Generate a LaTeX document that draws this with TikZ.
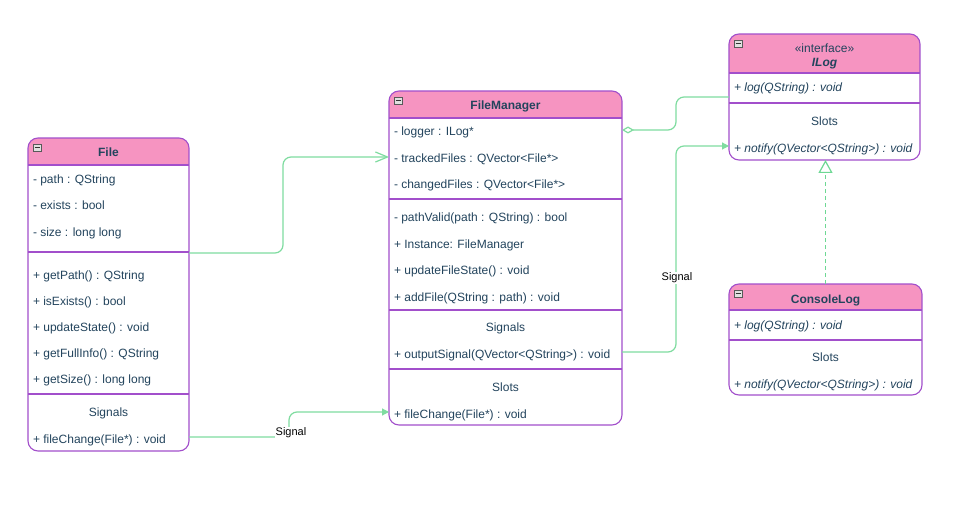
\documentclass[tikz,border=0pt]{standalone}
\usepackage{fontspec}
\setmainfont{Liberation Sans}
\usetikzlibrary{arrows.meta}
\definecolor{hdr}{HTML}{F694C1}
\definecolor{brd}{HTML}{A24FCB}
\definecolor{txt}{HTML}{23445D}
\definecolor{conn}{HTML}{7FDCA0}
\definecolor{dconn}{HTML}{6ED894}
\newcommand\umlclass[6]{%
  \begin{scope}
    \clip[rounded corners=10] (#2,#3) rectangle (#4,#5);
    \fill[hdr] (#2,#3) rectangle (#4,#6);
  \end{scope}
  \node[draw=brd, line width=1.1, rounded corners=10, inner sep=0, outer sep=0,
        minimum width=#4-#2, minimum height=#5-#3, anchor=north west] (#1) at (#2,#3) {};
  \draw[brd, line width=1.1] (#2,#6) -- (#4,#6);
  \draw[fill=black!12, draw=black!65, line width=0.6] (#2+5,#3+6) rectangle ++(8,7);
  \draw[black!80, line width=0.9] (#2+6.5,#3+9.5) -- ++(5,0);
}
\newcommand\umlsep[3]{\draw[brd, line width=1.1] (#1,#3) -- (#2,#3);}
\begin{document}
\begin{tikzpicture}[x=1pt,y=-1pt,
  row/.style={anchor=west, inner sep=0, outer sep=0, text=txt, text height=14, text depth=2, font=\fontsize{12}{14}\selectfont},
  irow/.style={row, font=\fontsize{12}{14}\selectfont\itshape},
  ctr/.style={row, anchor=center},
  ttl/.style={row, anchor=center, font=\fontsize{12}{14}\selectfont\bfseries},
  lbl/.style={inner sep=1, fill=white, text=black, font=\fontsize{11}{13}\selectfont},
  link/.style={draw=conn, line width=1.2, rounded corners=8},
]
\useasboundingbox (0,0) rectangle (967,508);
\fill[white] (0,0) rectangle (967,508);

% ---------- File ----------
\umlclass{file}{28}{138}{189}{451}{165}
\node[ttl] (fileT) at (108.5,151) {File};
\node[row] (fileA1) at (33,178) {- path : QString};
\node[row] (fileA2) at (33,204) {- exists : bool};
\node[row] (fileA3) at (33,230) {- size : long long};
\umlsep{28}{189}{252}
\node[row] (fileM1) at (33,273) {+ getPath() : QString};
\node[row] (fileM2) at (33,299) {+ isExists() : bool};
\node[row] (fileM3) at (33,325) {+ updateState() : void};
\node[row] (fileM4) at (33,351) {+ getFullInfo() : QString};
\node[row] (fileM5) at (33,377) {+ getSize() : long long};
\umlsep{28}{189}{394}
\node[ctr] (fileSH) at (108.5,410) {Signals};
\node[row] (fileSig) at (33,437) {+ fileChange(File*) : void};

% ---------- FileManager ----------
\umlclass{fm}{389}{91}{622}{425}{118}
\node[ttl] (fmT) at (505.5,104) {FileManager};
\node[row] (fmLogger) at (394,130) {- logger : ILog*};
\node[row] (fmTracked) at (394,157) {- trackedFiles : QVector<File*>};
\node[row] (fmChanged) at (394,183) {- changedFiles : QVector<File*>};
\umlsep{389}{622}{199}
\node[row] (fmM1) at (394,216) {- pathValid(path : QString) : bool};
\node[row] (fmM2) at (394,242) {+ Instance: FileManager};
\node[row] (fmM3) at (394,268) {+ updateFileState() : void};
\node[row] (fmM4) at (394,295) {+ addFile(QString : path) : void};
\umlsep{389}{622}{310}
\node[ctr] (fmSH) at (505.5,325) {Signals};
\node[row] (fmOut) at (394,352) {+ outputSignal(QVector<QString>) : void};
\umlsep{389}{622}{369}
\node[ctr] (fmSlH) at (505.5,385) {Slots};
\node[row] (fmSlot) at (394,412) {+ fileChange(File*) : void};

% ---------- ILog ----------
\umlclass{ilog}{729}{34}{920}{160}{73}
\node[ctr] (ilogS) at (824.5,47) {«interface»};
\node[row, anchor=center, font=\fontsize{12}{14}\selectfont\bfseries\itshape] (ilogT) at (824.5,61) {ILog};
\node[irow] (ilogLog) at (734,86) {+ log(QString) : void};
\umlsep{729}{920}{103}
\node[ctr] (ilogSl) at (824.5,120) {Slots};
\node[irow] (ilogNotify) at (734,147) {+ notify(QVector<QString>) : void};

% ---------- ConsoleLog ----------
\umlclass{clog}{729}{284}{922}{395}{310}
\node[ttl] (clogT) at (825.5,297) {ConsoleLog};
\node[irow] (clogLog) at (734,323) {+ log(QString) : void};
\umlsep{729}{922}{340}
\node[ctr] (clogSl) at (825.5,355) {Slots};
\node[irow] (clogNotify) at (734,382) {+ notify(QVector<QString>) : void};

% ---------- connectors ----------
\coordinate (fileOut) at (189,253);
\coordinate (ilogIn) at (729,97);
\coordinate (fmSlotIn) at (389,412);
\coordinate (fmTrackIn) at (389,157);
\coordinate (ilogNotIn) at (729,146);

\draw[link, -{Straight Barb[length=12,width=10,line width=1.2]}]
  (fileOut) -- (283,253) -- (283,157) -- (fmTrackIn);

\draw[link, -{Triangle[length=7,width=7]}]
  (file.east |- fileSig) -- (289,437) -- (289,412) -- (fmSlotIn);
\node[lbl] (sig1) at (291,433) {Signal};

\draw[link, {Diamond[open,length=12,width=7,fill=white]}-]
  (fm.east |- fmLogger) -- (676,130) -- (676,97) -- (ilogIn);

\draw[link, -{Triangle[length=7,width=7]}]
  (fm.east |- fmOut) -- (676,352) -- (676,146) -- (ilogNotIn);
\node[lbl] (sig2) at (677,278) {Signal};

\draw[draw=dconn, line width=1.2, dash pattern=on 4 off 3, -{Triangle[open,length=13,width=14,fill=white]}]
  (clog.north) -- (clog.north |- ilog.south);
\end{tikzpicture}
\end{document}
